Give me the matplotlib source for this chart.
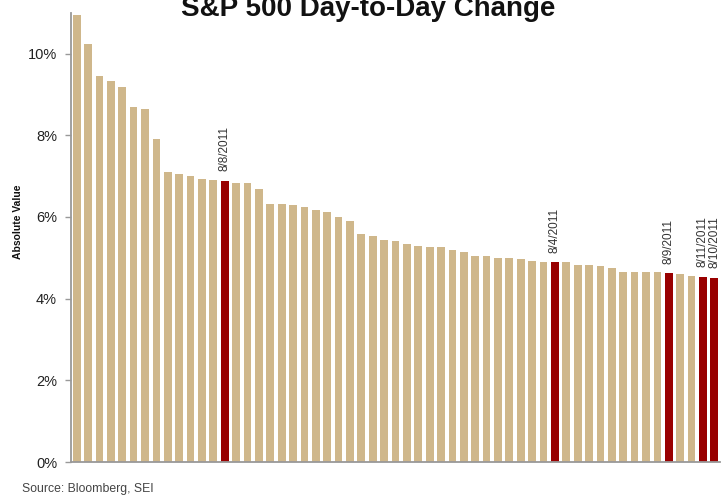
import matplotlib.pyplot as plt
import numpy as np
from matplotlib.ticker import FuncFormatter

plt.rcParams["font.family"] = ["Liberation Sans", "DejaVu Sans"]

# absolute daily change of the S&P 500, sorted largest first (percent)
values = [10.95, 10.24, 9.45, 9.34, 9.19, 8.69, 8.64, 7.90, 7.11, 7.04,
          7.00, 6.94, 6.91, 6.89, 6.84, 6.83, 6.69, 6.31, 6.31, 6.29,
          6.25, 6.16, 6.13, 6.00, 5.91, 5.57, 5.53, 5.43, 5.40, 5.33,
          5.29, 5.27, 5.26, 5.18, 5.14, 5.04, 5.04, 5.00, 4.99, 4.96,
          4.93, 4.89, 4.89, 4.89, 4.82, 4.82, 4.79, 4.76, 4.66, 4.66,
          4.66, 4.65, 4.62, 4.61, 4.55, 4.53, 4.51]
highlight_idx = [13, 42, 52, 55, 56]
highlight_labels = ["8/8/2011", "8/4/2011", "8/9/2011", "8/11/2011", "8/10/2011"]
y_ticks = [0, 2, 4, 6, 8, 10]

TAN = "#CFB78B"
RED = "#990000"

W, H = 725, 498
fig = plt.figure(figsize=(W / 100, H / 100), dpi=100)
ax = fig.add_axes([71 / W, 36 / H, (720 - 71) / W, (462 - 12.7) / H])

x = np.arange(len(values))
colors = [RED if i in highlight_idx else TAN for i in x]
ax.bar(x, values, width=0.68, color=colors, linewidth=0)

for idx, label in zip(highlight_idx, highlight_labels):
    ax.annotate(label, (idx, values[idx]), xytext=(0, 7), textcoords="offset points",
                rotation=90, ha="center", va="bottom", fontsize=8.5, color="#333333")

ax.set_xlim(-0.5, len(values) - 0.5)
ax.set_ylim(0, 11)
ax.set_yticks(y_ticks)
ax.yaxis.set_major_formatter(FuncFormatter(lambda v, _: f"{v:.0f}%"))
ax.set_xticks([])
ax.tick_params(axis="y", length=4, width=1, color="#999999", pad=6,
               labelsize=10.5, labelcolor="#222222")

for side in ["top", "right"]:
    ax.spines[side].set_visible(False)
for side in ["left", "bottom"]:
    ax.spines[side].set_color("#999999")
    ax.spines[side].set_linewidth(1.3)

fig.text(18 / W, 1 - 222 / H, "Absolute Value", rotation=90, ha="center", va="center",
         fontsize=7.5, fontweight="bold", color="#111111")
fig.text(368 / W, 1 - 16 / H, "S&P 500 Day-to-Day Change", ha="center", va="baseline",
         fontsize=20, fontweight="bold", color="#111111")
fig.text(22 / W, 1 - 492 / H, "Source: Bloomberg, SEI", ha="left", va="baseline",
         fontsize=8.8, color="#444444")

fig.savefig("out.png", dpi=100)
